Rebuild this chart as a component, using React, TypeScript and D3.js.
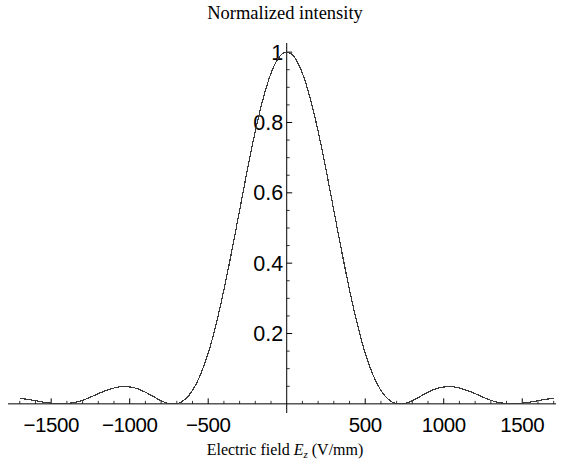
import React, { useEffect, useRef } from 'react';
import * as d3 from 'd3';

// sampled field values (V/mm)
const fieldValues = [
  -1700, -1650, -1600, -1550, -1500, -1450, -1400, -1350, -1300, -1250,
  -1200, -1150, -1100, -1050, -1000, -950, -900, -850, -800, -750,
  -700, -650, -600, -550, -500, -450, -400, -350, -300, -250,
  -200, -150, -100, -50, 0, 50, 100, 150, 200, 250,
  300, 350, 400, 450, 500, 550, 600, 650, 700, 750,
  800, 850, 900, 950, 1000, 1050, 1100, 1150, 1200, 1250,
  1300, 1350, 1400, 1450, 1500, 1550, 1600, 1650, 1700
];

// normalized intensity
const intensity = [
  0.015, 0.013, 0.009, 0.005, 0.002, 0.000, 0.001, 0.004, 0.010, 0.019,
  0.029, 0.038, 0.045, 0.049, 0.048, 0.043, 0.033, 0.021, 0.009, 0.001,
  0.001, 0.012, 0.038, 0.082, 0.144, 0.226, 0.324, 0.434, 0.550, 0.667,
  0.775, 0.868, 0.940, 0.985, 1.000, 0.985, 0.940, 0.868, 0.775, 0.667,
  0.550, 0.434, 0.324, 0.226, 0.144, 0.082, 0.038, 0.012, 0.001, 0.001,
  0.009, 0.021, 0.033, 0.043, 0.048, 0.049, 0.045, 0.038, 0.029, 0.019,
  0.010, 0.004, 0.001, 0.000, 0.002, 0.005, 0.009, 0.013, 0.015
];

const xMajorTicks = [-1500, -1000, -500, 500, 1000, 1500];
const yMajorTicks = [0.2, 0.4, 0.6, 0.8, 1];

const width = 562;
const height = 464;

export default function App() {
  const svgRef = useRef<SVGSVGElement>(null);

  useEffect(() => {
    if (!svgRef.current) return;
    const svg = d3.select(svgRef.current);
    svg.selectAll('*').remove();

    const x = d3.scaleLinear().domain([-1775, 1715]).range([8, 556]);
    const y = d3.scaleLinear().domain([-0.026, 1.026]).range([413, 43]);
    const x0 = x(0);
    const y0 = y(0);

    const g = svg.append('g');

    // axes lines
    g.append('line')
      .attr('x1', x.range()[0]).attr('x2', x.range()[1])
      .attr('y1', y0).attr('y2', y0)
      .attr('stroke', '#000').attr('stroke-width', 1);
    g.append('line')
      .attr('x1', x0).attr('x2', x0)
      .attr('y1', y.range()[0]).attr('y2', y.range()[1])
      .attr('stroke', '#000').attr('stroke-width', 1);

    // x ticks (minor every 100, major every 500)
    const xMinor = d3.range(-1700, 1701, 100).filter(v => v !== 0 && v % 500 !== 0);
    g.selectAll('line.xminor').data(xMinor).enter().append('line')
      .attr('x1', d => x(d)).attr('x2', d => x(d))
      .attr('y1', y0).attr('y2', y0 - 3)
      .attr('stroke', '#000').attr('stroke-width', 0.8);
    g.selectAll('line.xmajor').data(xMajorTicks).enter().append('line')
      .attr('x1', d => x(d)).attr('x2', d => x(d))
      .attr('y1', y0).attr('y2', y0 - 5.5)
      .attr('stroke', '#000').attr('stroke-width', 1);

    // y ticks (minor every 0.05, major every 0.2)
    const yMinor = d3.range(1, 21).map(i => i * 0.05).filter(v => Math.abs(v / 0.2 - Math.round(v / 0.2)) > 1e-6);
    g.selectAll('line.yminor').data(yMinor).enter().append('line')
      .attr('x1', x0).attr('x2', x0 + 3)
      .attr('y1', d => y(d)).attr('y2', d => y(d))
      .attr('stroke', '#000').attr('stroke-width', 0.8);
    g.selectAll('line.ymajor').data(yMajorTicks).enter().append('line')
      .attr('x1', x0).attr('x2', x0 + 5.5)
      .attr('y1', d => y(d)).attr('y2', d => y(d))
      .attr('stroke', '#000').attr('stroke-width', 1);

    // tick labels
    const tickFont = '"Liberation Sans", Arial, sans-serif';
    g.selectAll('text.xlab').data(xMajorTicks).enter().append('text')
      .attr('x', d => x(d))
      .attr('y', y0 + 28)
      .attr('text-anchor', 'middle')
      .style('font-family', tickFont)
      .style('font-size', '20.5px')
      .style('letter-spacing', '-0.4px')
      .text(d => (d < 0 ? '\u2212' + Math.abs(d) : String(d)));
    g.selectAll('text.ylab').data(yMajorTicks).enter().append('text')
      .attr('x', x0 - 3.5)
      .attr('y', d => y(d) + 7.5)
      .attr('text-anchor', 'end')
      .style('font-family', tickFont)
      .style('font-size', '21.5px')
      .text(d => String(d));

    // curve
    const line = d3.line<number>()
      .x((_, i) => x(fieldValues[i]))
      .y(d => y(d))
      .curve(d3.curveMonotoneX);
    g.append('path')
      .datum(intensity)
      .attr('d', line)
      .attr('fill', 'none')
      .attr('stroke', '#3a3a3a')
      .attr('stroke-width', 1.2)
      .attr('shape-rendering', 'crispEdges');

    // titles
    svg.append('text')
      .attr('x', 285)
      .attr('y', 19)
      .attr('text-anchor', 'middle')
      .style('font-family', '"Liberation Serif", "Times New Roman", serif')
      .style('font-size', '18.5px')
      .text('Normalized intensity');

    const xl = svg.append('text')
      .attr('x', 285)
      .attr('y', 455)
      .attr('text-anchor', 'middle')
      .style('font-family', '"Liberation Serif", "Times New Roman", serif')
      .style('font-size', '16px');
    xl.append('tspan').text('Electric field ');
    xl.append('tspan').style('font-style', 'italic').text('E');
    xl.append('tspan').attr('dy', 3).style('font-size', '11px').style('font-style', 'italic').text('z');
    xl.append('tspan').attr('dy', -3).text(' (V/mm)');
  }, []);

  return (
    <svg
      ref={svgRef}
      width={width}
      height={height}
      style={{ position: 'absolute', left: 0, top: 0, background: '#fff' }}
    />
  );
}
